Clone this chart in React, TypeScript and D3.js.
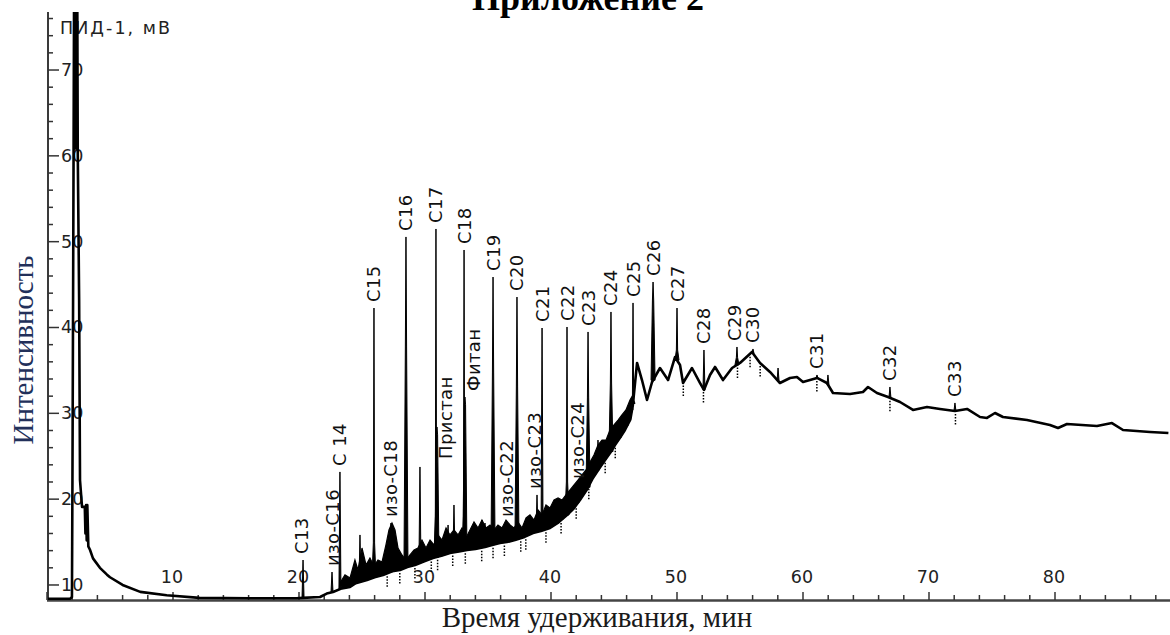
import React from "react";
import * as d3 from "d3";

const W = 1170;
const H = 635;

// Axis extents: retention time (min) and detector signal (mV)
const timeDomain: [number, number] = [0, 89];
const signalDomain: [number, number] = [8.25, 76.76];
const timeTickLabels = [10, 20, 30, 40, 50, 60, 70, 80];
const signalTickLabels = [10, 20, 30, 40, 50, 60, 70];

// Solvent front and its decay, [time, mV]
const solventTrace: [number, number][] = [
  [0, 8.4], [1.85, 8.4], [1.98, 8.6], [2.02, 22.2], [2.07, 43.2], [2.11, 60.7],
  [2.15, 80], [2.4, 80], [2.44, 60.7], [2.55, 43.2], [2.62, 22.2], [2.78, 19.1],
  [3.0, 19.1], [3.05, 16.0], [3.1, 19.3], [3.15, 15.2], [3.2, 19.3], [3.28, 14.5],
  [3.41, 14.1], [3.65, 13.1], [4.2, 12.0], [4.76, 11.2], [5.0, 10.9], [6.0, 10.0],
  [7.4, 9.2], [9.5, 8.8], [12.1, 8.5], [16.1, 8.45], [19.8, 8.45],
];
// Detector saturation level: above it the solvent peak is drawn solid
const saturation = 58;

// Rising baseline under the resolved alkanes, [time, mV]
const baselineTrace: [number, number][] = [
  [20.3, 8.5], [21.67, 8.6], [22.2, 9.0], [22.7, 9.18], [23.4, 9.6], [24.05, 9.77],
  [24.5, 10.2], [25.4, 10.58], [26.0, 10.9], [26.67, 11.17], [27.4, 11.6], [28.02, 11.75],
  [28.6, 12.1], [29.21, 12.33], [30.0, 12.8], [30.63, 13.15], [31.3, 13.4], [31.98, 13.73],
  [32.7, 13.9], [33.33, 14.08], [34.0, 14.2], [34.76, 14.43], [35.4, 14.7], [35.95, 14.89],
  [36.5, 15.0], [37.14, 15.24], [37.9, 15.6], [38.57, 16.06], [39.2, 16.3], [39.92, 16.64],
  [40.6, 17.3], [41.27, 18.16], [41.8, 18.9], [42.3, 19.9], [42.8, 21.0], [43.33, 22.47],
  [43.8, 23.5], [44.29, 24.56], [44.7, 25.4], [45.08, 26.31], [45.5, 27.2], [45.87, 28.06],
  [46.3, 29.3], [46.5, 31.0],
];

// Unresolved complex mixture hump and late tail, [time, mV]
const humpTrace: [number, number][] = [
  [46.83, 35.87], [47.22, 33.88], [47.62, 31.55], [48.02, 33.65], [48.65, 35.28],
  [49.29, 33.88], [49.84, 36.56], [50.24, 35.63], [50.48, 33.53], [51.19, 35.28],
  [51.83, 33.53], [52.14, 32.72], [52.62, 34.47], [53.02, 35.4], [53.65, 33.88],
  [54.37, 35.28], [55.0, 35.87], [55.95, 37.15], [56.59, 35.87], [57.38, 34.82],
  [58.17, 33.53], [58.97, 34.12], [59.52, 34.23], [60.0, 33.65], [61.11, 34.12],
  [61.9, 33.53], [62.38, 32.37], [63.73, 32.25], [64.76, 32.49], [65.16, 33.07],
  [65.87, 32.37], [66.75, 31.9], [67.7, 31.32], [68.73, 30.39], [69.84, 30.74],
  [70.87, 30.51], [72.06, 30.27], [73.02, 30.51], [74.05, 29.57], [74.6, 29.46],
  [75.24, 30.04], [75.87, 29.57], [77.78, 29.22], [79.6, 28.64], [80.24, 28.29],
  [80.95, 28.76], [83.33, 28.53], [84.52, 28.87], [85.4, 28.06], [87.54, 27.83],
  [89.0, 27.71],
];

// Upper edge of the dense band of small unresolved peaks, [time, mV]
const bandTop: [number, number][] = [
  [23.25, 10.23], [23.65, 11.17], [24.05, 10.82], [24.44, 12.91], [24.68, 11.75],
  [25.0, 14.31], [25.32, 12.33], [25.63, 13.15], [25.95, 12.21], [26.27, 12.91],
  [26.59, 12.68], [26.9, 14.66], [27.14, 16.41], [27.38, 17.22], [27.62, 16.41],
  [27.86, 14.31], [28.17, 13.5], [28.49, 12.91], [28.81, 13.5], [29.13, 14.08],
  [29.44, 14.31], [29.76, 15.24], [30.08, 14.31], [30.4, 15.24], [30.71, 14.66],
  [31.03, 15.83], [31.35, 15.24], [31.67, 16.64], [31.98, 15.83], [32.3, 16.41],
  [32.62, 15.83], [32.94, 16.64], [33.25, 15.48], [33.57, 16.41], [33.89, 17.34],
  [34.21, 16.64], [34.52, 17.57], [34.84, 16.64], [35.16, 16.99], [35.48, 16.41],
  [35.79, 16.99], [36.11, 16.64], [36.43, 17.57], [36.75, 16.99], [37.06, 16.64],
  [37.38, 17.34], [37.7, 16.64], [38.02, 17.81], [38.33, 18.16], [38.65, 17.57],
  [38.97, 18.74], [39.29, 18.16], [39.6, 19.32], [39.92, 18.97], [40.24, 19.9],
  [40.56, 20.14], [40.87, 19.9], [41.19, 20.49], [41.51, 21.07], [41.83, 21.65],
  [42.14, 22.23], [42.46, 22.82], [42.78, 23.4], [43.1, 24.33], [43.41, 25.15],
  [43.73, 26.31], [44.05, 26.89], [44.37, 26.89], [44.68, 28.06], [45.0, 28.64],
  [45.32, 29.22], [45.63, 29.81], [45.95, 30.39], [46.27, 31.55], [46.5, 32.14],
];

// Identified peaks: retention time, apex (mV), level where the peak widens (mV)
const peakNames = [
  "С13", "изо-С16", "С 14", "С15", "изо-С18", "С16", "С17", "Пристан", "С18", "Фитан",
  "С19", "изо-С22", "С20", "изо-С23", "С21", "С22", "изо-С24", "С23", "С24", "С25",
  "С26", "С27", "С28", "С29", "С30", "С31", "С32", "С33",
];
const peakTimes = [
  20.32, 22.62, 23.25, 25.95, 27.3, 28.49, 30.87, 30.95, 33.1, 33.17,
  35.4, 36.43, 37.3, 38.89, 39.29, 41.27, 42.14, 42.94, 44.76, 46.51,
  48.1, 50.0, 52.14, 54.76, 56.03, 61.11, 66.9, 72.06,
];
const peakApex = [
  12.91, 11.51, 23.17, 42.27, 17.22, 50.55, 51.48, 28.41, 49.03, 31.9,
  45.88, 17.22, 43.55, 20.49, 39.94, 40.06, 21.65, 39.48, 41.81, 42.86,
  45.3, 42.27, 37.38, 37.73, 37.5, 34.47, 33.07, 31.21,
];
const peakBody: (number | null)[] = [
  null, null, null, 14.9, 15.5, 37.73, 18.0, 27.5, 18.0, 31.0,
  34.7, null, 33.07, null, null, 22.0, null, 31.79, 33.53, 31.55,
  43.2, 37.38, null, 36.5, null, null, null, null,
];

// Unlabelled spikes, [time, apex mV]
const minorPeaks: [number, number][] = [
  [24.84, 15.83], [29.6, 23.75], [31.83, 16.99], [32.3, 19.32], [34.52, 17.57],
  [34.76, 17.22], [38.33, 17.81], [40.48, 19.9], [40.87, 19.32], [43.73, 26.89],
  [44.29, 26.89], [45.48, 28.87], [46.03, 30.04], [46.43, 31.32], [58.02, 35.28],
  [61.98, 34.47],
];

// Integration boundary marks below the trace, minutes
const markerTimes = [
  27.0, 28.0, 29.2, 30.5, 31.0, 32.2, 33.2, 34.5, 35.4, 36.3, 37.6, 38.0, 39.6,
  40.8, 42.0, 43.0, 44.3, 45.1, 50.5, 52.1, 54.8, 55.8, 56.6, 61.1, 66.9, 72.1,
];

const labelNudge: Record<string, [number, number]> = {
  "Пристан": [9, 38],
  "Фитан": [9, 0],
  "изо-С23": [-3, 0],
  "С29": [-2, 0],
  "С13": [-2, 0],
};

const SANS = "'DejaVu Sans', Verdana, sans-serif";
const SERIF = "'Liberation Serif', 'Times New Roman', serif";

export default function App() {
  const x = d3.scaleLinear().domain(timeDomain).range([47, 47 + 89 * 12.6]);
  const y = d3.scaleLinear().domain(signalDomain).range([600, 12]);

  const trace = [...solventTrace, ...baselineTrace, ...humpTrace];
  const bisect = d3.bisector((d: [number, number]) => d[0]).left;
  const valueAt = (t: number) => {
    const i = bisect(trace, t);
    if (i <= 0) return trace[0][1];
    if (i >= trace.length) return trace[trace.length - 1][1];
    const [t0, v0] = trace[i - 1];
    const [t1, v1] = trace[i];
    return v0 + ((v1 - v0) * (t - t0)) / (t1 - t0);
  };

  const line = d3
    .line<[number, number]>()
    .x((d) => x(d[0]))
    .y((d) => y(d[1]));

  const bandStart = bandTop[0][0];
  const bandEnd = bandTop[bandTop.length - 1][0];
  const bandBottom = baselineTrace
    .filter((d) => d[0] >= bandStart && d[0] <= bandEnd)
    .slice()
    .reverse();
  const bandPath = line([...bandTop, ...bandBottom]) + "Z";

  const solventTop = line(solventTrace.filter((d) => d[1] >= saturation)) + "Z";

  const peakShape = (t: number, apex: number, body: number | null) => {
    const base = valueAt(t);
    if (body != null && body > base) {
      return line([
        [t - 0.16, base], [t - 0.05, body], [t, apex], [t + 0.05, body], [t + 0.16, base],
      ]) + "Z";
    }
    return line([[t - 0.08, base], [t, apex], [t + 0.08, base]]) + "Z";
  };

  const yTicks = d3.range(10, 77, 2);
  const xTicks = d3.range(0, 89, 2);

  return (
    <svg
      width={W}
      height={H}
      style={{ position: "absolute", left: 0, top: 0, background: "#fff" }}
    >
      <defs>
        <clipPath id="plot">
          <rect x={48} y={12} width={W - 48} height={588} />
        </clipPath>
      </defs>

      <text
        x={588}
        y={10}
        textAnchor="middle"
        fontFamily={SERIF}
        fontWeight="bold"
        fontSize={36}
        fill="#000"
      >
        Приложение 2
      </text>

      {/* signal axis */}
      <line x1={48} x2={48} y1={12} y2={601} stroke="#3a3a3a" strokeWidth={2} />
      {yTicks.map((v) => (
        <line
          key={"yt" + v}
          x1={48}
          x2={v % 10 === 0 ? 59 : 53}
          y1={y(v)}
          y2={y(v)}
          stroke="#333"
          strokeWidth={1.5}
        />
      ))}
      {signalTickLabels.map((v) => (
        <text
          key={"yl" + v}
          x={61}
          y={y(v) + 6}
          fontFamily={SANS}
          fontSize={17.5}
          fill="#222"
        >
          {v}
        </text>
      ))}
      <text x={60} y={34} fontFamily={SANS} fontSize={17.5} fill="#222" textLength={110} lengthAdjust="spacing">
        ПИД-1, мВ
      </text>

      {/* time axis */}
      <line x1={47} x2={W} y1={600.5} y2={600.5} stroke="#444" strokeWidth={2.5} />
      {xTicks.map((t) => (
        <line
          key={"xt" + t}
          x1={x(t)}
          x2={x(t)}
          y1={600}
          y2={t % 10 === 0 ? 592 : 595}
          stroke="#333"
          strokeWidth={1.5}
        />
      ))}
      {timeTickLabels.map((t) => (
        <text
          key={"xl" + t}
          x={x(t) - 1}
          y={583}
          textAnchor="middle"
          fontFamily={SANS}
          fontSize={17.5}
          fill="#222"
        >
          {t}
        </text>
      ))}

      <g clipPath="url(#plot)">
        <path d={bandPath} fill="#000" stroke="#000" strokeWidth={1.2} strokeLinejoin="miter" />
        <path d={solventTop} fill="#000" stroke="none" />
        <path d={line(trace) ?? ""} fill="none" stroke="#000" strokeWidth={2.6} strokeLinejoin="round" />
        {minorPeaks.map(([t, v], i) => (
          <path key={"mp" + i} d={peakShape(t, v, null)} fill="#000" stroke="#000" strokeWidth={1} />
        ))}
        {peakNames.map((name, i) => (
          <path
            key={"pk" + name}
            d={peakShape(peakTimes[i], peakApex[i], peakBody[i])}
            fill="#000"
            stroke="#000"
            strokeWidth={1}
          />
        ))}
        {markerTimes.map((t, i) => {
          const yy = y(valueAt(t));
          return (
            <line
              key={"mk" + i}
              x1={x(t)}
              x2={x(t)}
              y1={yy + 3}
              y2={yy + 15}
              stroke="#000"
              strokeWidth={1.5}
              strokeDasharray="1.5 1.5"
            />
          );
        })}
      </g>

      {peakNames.map((name, i) => {
        const [dx, dy] = labelNudge[name] ?? [0, 0];
        const px = x(peakTimes[i]) + dx + 6.5;
        const py = y(peakApex[i]) - 6 + dy;
        return (
          <text
            key={"lb" + name}
            transform={`translate(${px},${py}) rotate(-90)`}
            fontFamily={SANS}
            fontSize={18}
            letterSpacing={0.4}
            fill="#111"
          >
            {name}
          </text>
        );
      })}

      <text
        transform="translate(33,350) rotate(-90)"
        textAnchor="middle"
        fontFamily={SERIF}
        fontSize={29}
        fill="#22305a"
      >
        Интенсивность
      </text>
      <text
        x={597}
        y={627}
        textAnchor="middle"
        fontFamily={SERIF}
        fontSize={29}
        fill="#1a1a1a"
      >
        Время удерживания, мин
      </text>
    </svg>
  );
}
